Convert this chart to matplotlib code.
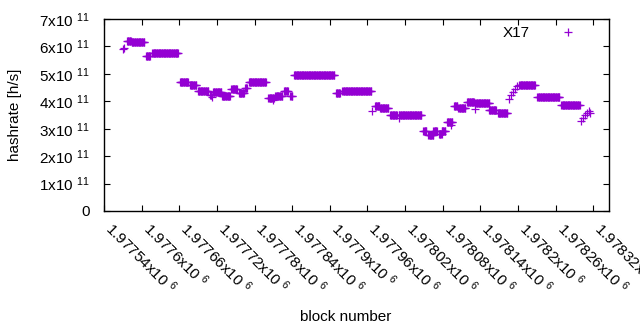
import numpy as np
import matplotlib
matplotlib.use("Agg")
import matplotlib.pyplot as plt
from matplotlib.ticker import FuncFormatter, MultipleLocator

plt.rcParams["font.family"] = ["Liberation Sans", "DejaVu Sans"]
plt.rcParams["mathtext.fontset"] = "custom"
plt.rcParams["mathtext.rm"] = "Liberation Sans"
plt.rcParams["mathtext.it"] = "Liberation Sans:italic"

# flat runs of blocks with the same hashrate (units of 1e11 h/s)
seg_start = [1977577, 1977584, 1977607, 1977617, 1977661, 1977677, 1977690,
             1977709, 1977714, 1977728, 1977743, 1977755, 1977765, 1977771,
             1977802, 1977813, 1977827, 1977837, 1977843, 1977910, 1977920,
             1977972, 1977980, 1977996, 1978010, 1978049, 1978057, 1978065,
             1978074, 1978078, 1978087, 1978098, 1978105, 1978119, 1978132,
             1978154, 1978168, 1978202, 1978231, 1978269]
seg_end = [1977583, 1977604, 1977613, 1977658, 1977674, 1977687, 1977706,
           1977711, 1977727, 1977741, 1977752, 1977763, 1977768, 1977798,
           1977811, 1977824, 1977833, 1977840, 1977907, 1977916, 1977966,
           1977979, 1977993, 1978007, 1978046, 1978054, 1978065, 1978071,
           1978078, 1978084, 1978095, 1978103, 1978116, 1978130, 1978154,
           1978165, 1978183, 1978227, 1978266, 1978298]
seg_rate = [6.18, 6.15, 5.64, 5.75, 4.69, 4.58, 4.36,
            4.23, 4.33, 4.18, 4.43, 4.29, 4.48, 4.69,
            4.11, 4.18, 4.36, 4.18, 4.95, 4.29, 4.36,
            3.81, 3.74, 3.50, 3.49, 2.93, 2.77, 2.90,
            2.81, 2.93, 3.26, 3.81, 3.74, 3.99, 3.94,
            3.68, 3.56, 4.60, 4.15, 3.85]

# single blocks off the flat runs
pt_block = [1977570, 1977572, 1977712, 1977809, 1977968, 1978010, 1978093,
            1978132, 1978186, 1978189, 1978192, 1978195, 1978198,
            1978301, 1978304, 1978307, 1978310, 1978313, 1978315]
pt_rate = [5.90, 5.95, 4.15, 4.03, 3.64, 3.40, 3.15,
           3.72, 4.10, 4.22, 4.35, 4.45, 4.55,
           3.28, 3.40, 3.50, 3.57, 3.63, 3.58]

blocks = [np.arange(s, e + 1) for s, e in zip(seg_start, seg_end)]
rates = [np.full(len(b), r) for b, r in zip(blocks, seg_rate)]
x = np.concatenate(blocks + [np.array(pt_block)])
y = np.concatenate(rates + [np.array(pt_rate)]) * 1e11

fig = plt.figure(figsize=(6.4, 3.3), dpi=100)
ax = fig.add_axes([104 / 640, 1 - 211 / 330, 505 / 640, 192 / 330])

ax.plot(x, y, "+", color="#9400d3", markersize=5.2, markeredgewidth=0.9,
        label="X17")

ax.set_xlim(1977540, 1978345)
ax.set_ylim(0, 7e11)
ax.xaxis.set_major_locator(MultipleLocator(60))
ax.yaxis.set_major_locator(MultipleLocator(1e11))


def fmt_x(v, pos):
    return f"{v / 1e6:g}x10 $^{{6}}$"


def fmt_y(v, pos):
    if v == 0:
        return "0"
    return f"{v / 1e11:g}x10 $^{{11}}$"


ax.xaxis.set_major_formatter(FuncFormatter(fmt_x))
ax.yaxis.set_major_formatter(FuncFormatter(fmt_y))
ax.tick_params(direction="in", length=4, width=0.8, top=True, right=True,
               labelsize=11, colors="black")
ax.tick_params(axis="y", pad=10)
ax.tick_params(axis="x", pad=13.5)
for lab in ax.get_xticklabels():
    lab.set_rotation(-45)
    lab.set_ha("left")
    lab.set_va("baseline")
    lab.set_rotation_mode("anchor")
for sp in ax.spines.values():
    sp.set_linewidth(1.0)

fig.text(15.5 / 640, 0.5 * ((330 - 211) + (330 - 19)) / 330, "hashrate [h/s]",
         rotation=90, ha="center", va="center", fontsize=11)
fig.text(346 / 640, 13 / 330, "block number", ha="center", va="center",
         fontsize=11)

ax.legend(loc="upper right", bbox_to_anchor=(0.9485, 0.962), frameon=False,
          markerfirst=False, numpoints=1, handlelength=2.0, handletextpad=1.5,
          borderaxespad=0, borderpad=0, fontsize=11)

fig.savefig("out.png", dpi=100)
